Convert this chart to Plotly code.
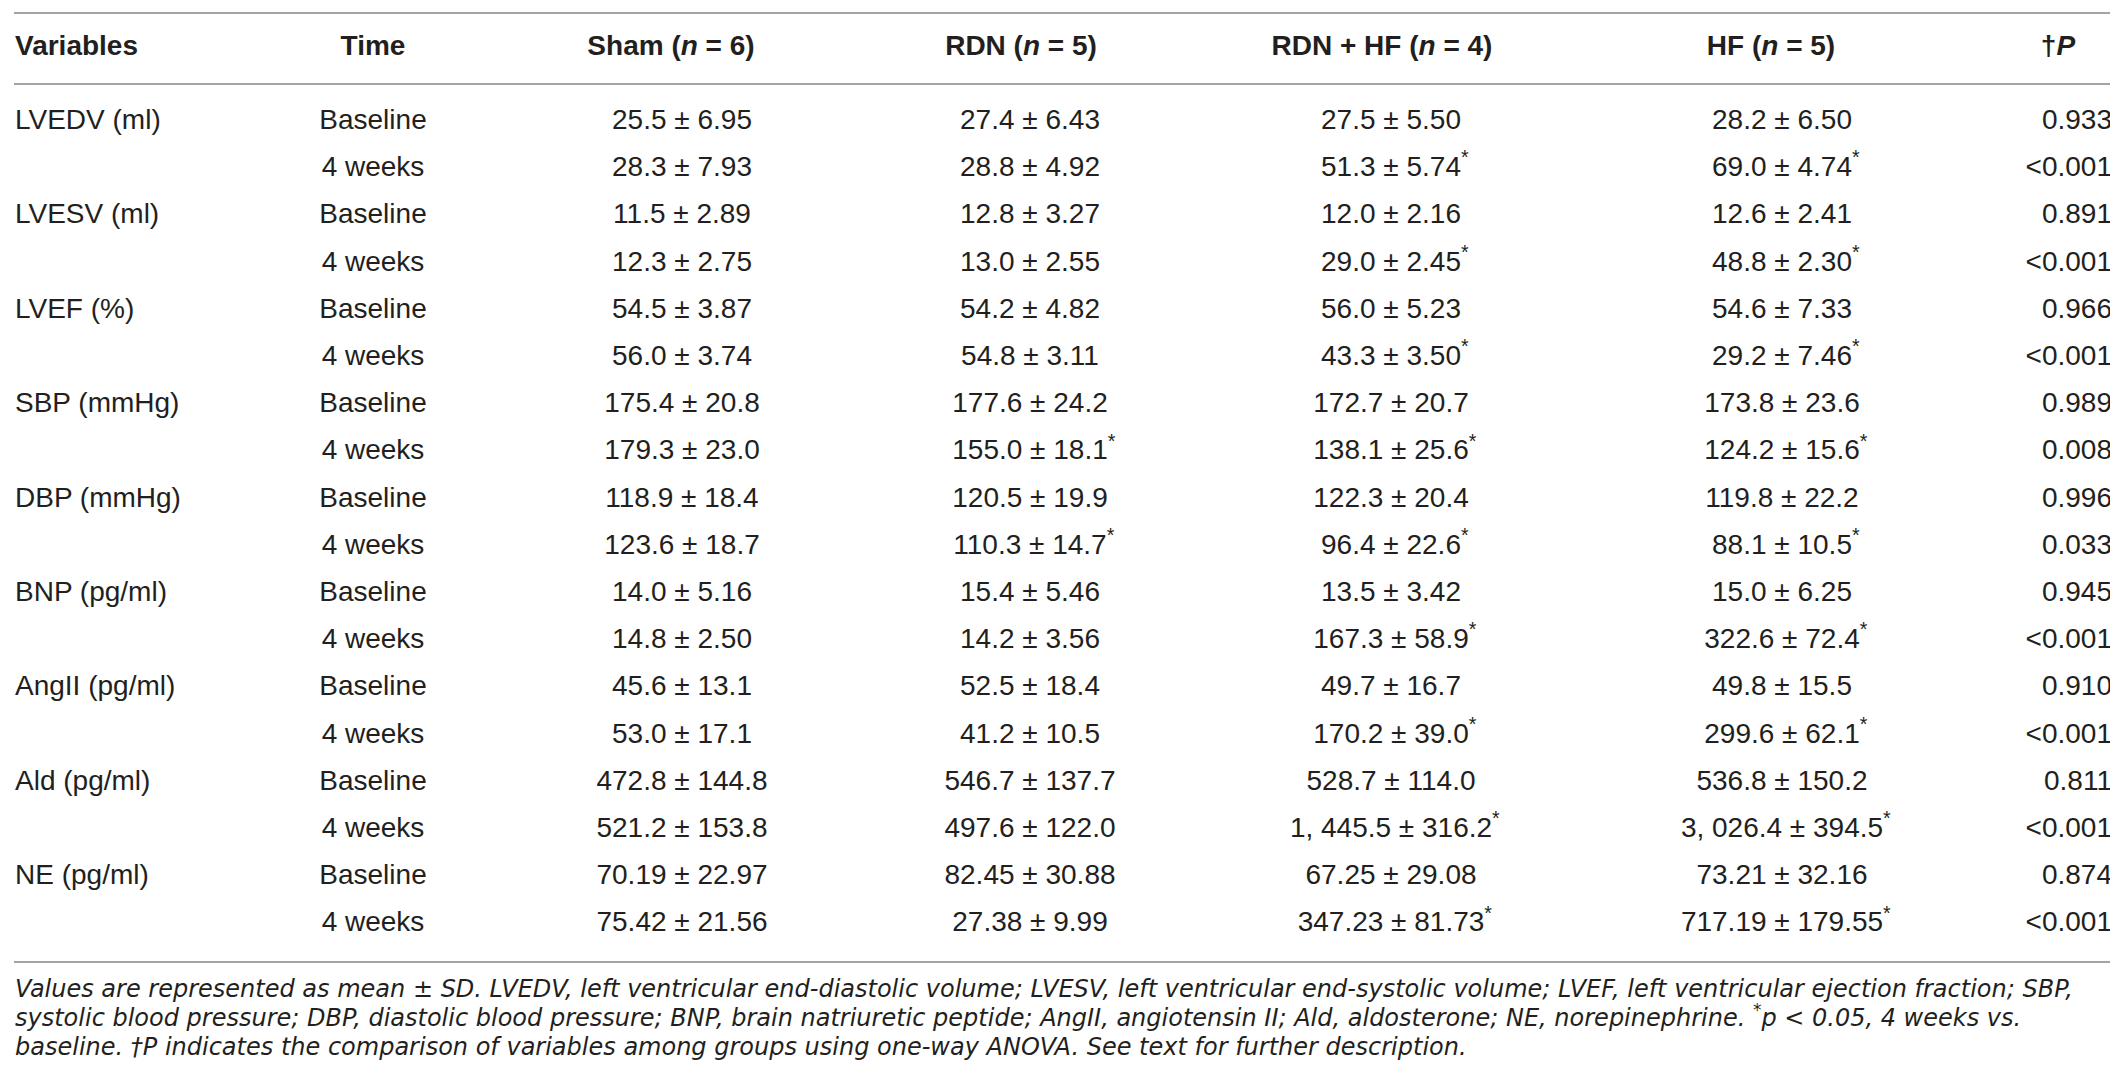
import plotly.graph_objects as go

# table contents
variables = ["LVEDV (ml)", "LVESV (ml)", "LVEF (%)", "SBP (mmHg)", "DBP (mmHg)",
             "BNP (pg/ml)", "AngII (pg/ml)", "Ald (pg/ml)", "NE (pg/ml)"]
times = ["Baseline", "4 weeks"]
headers = ["Variables", "Time", "Sham (<i>n</i> = 6)", "RDN (<i>n</i> = 5)",
           "RDN + HF (<i>n</i> = 4)", "HF (<i>n</i> = 5)", "†<i>P</i>"]

sham = ["25.5 ± 6.95", "28.3 ± 7.93", "11.5 ± 2.89", "12.3 ± 2.75", "54.5 ± 3.87", "56.0 ± 3.74",
        "175.4 ± 20.8", "179.3 ± 23.0", "118.9 ± 18.4", "123.6 ± 18.7", "14.0 ± 5.16", "14.8 ± 2.50",
        "45.6 ± 13.1", "53.0 ± 17.1", "472.8 ± 144.8", "521.2 ± 153.8", "70.19 ± 22.97", "75.42 ± 21.56"]
rdn = ["27.4 ± 6.43", "28.8 ± 4.92", "12.8 ± 3.27", "13.0 ± 2.55", "54.2 ± 4.82", "54.8 ± 3.11",
       "177.6 ± 24.2", "155.0 ± 18.1*", "120.5 ± 19.9", "110.3 ± 14.7*", "15.4 ± 5.46", "14.2 ± 3.56",
       "52.5 ± 18.4", "41.2 ± 10.5", "546.7 ± 137.7", "497.6 ± 122.0", "82.45 ± 30.88", "27.38 ± 9.99"]
rdn_hf = ["27.5 ± 5.50", "51.3 ± 5.74*", "12.0 ± 2.16", "29.0 ± 2.45*", "56.0 ± 5.23", "43.3 ± 3.50*",
          "172.7 ± 20.7", "138.1 ± 25.6*", "122.3 ± 20.4", "96.4 ± 22.6*", "13.5 ± 3.42", "167.3 ± 58.9*",
          "49.7 ± 16.7", "170.2 ± 39.0*", "528.7 ± 114.0", "1, 445.5 ± 316.2*", "67.25 ± 29.08",
          "347.23 ± 81.73*"]
hf = ["28.2 ± 6.50", "69.0 ± 4.74*", "12.6 ± 2.41", "48.8 ± 2.30*", "54.6 ± 7.33", "29.2 ± 7.46*",
      "173.8 ± 23.6", "124.2 ± 15.6*", "119.8 ± 22.2", "88.1 ± 10.5*", "15.0 ± 6.25", "322.6 ± 72.4*",
      "49.8 ± 15.5", "299.6 ± 62.1*", "536.8 ± 150.2", "3, 026.4 ± 394.5*", "73.21 ± 32.16",
      "717.19 ± 179.55*"]
p_values = ["0.933", "<0.001", "0.891", "<0.001", "0.966", "<0.001", "0.989", "0.008", "0.996",
            "0.033", "0.945", "<0.001", "0.910", "<0.001", "0.811", "<0.001", "0.874", "<0.001"]

footnote = [
    "Values are represented as mean ± SD. LVEDV, left ventricular end-diastolic volume; LVESV, left ventricular "
    "end-systolic volume; LVEF, left ventricular ejection fraction; SBP,",
    "systolic blood pressure; DBP, diastolic blood pressure; BNP, brain natriuretic peptide; AngII, angiotensin II; "
    "Ald, aldosterone; NE, norepinephrine. <sup>*</sup><i>p</i> &lt; 0.05, 4 weeks vs.",
    "baseline. †<i>P</i> indicates the comparison of variables among groups using one-way ANOVA. "
    "See text for further description.",
]

W, H = 2118, 1076
FONT = "Liberation Sans, Arial, sans-serif"
FOOT_FONT = "DejaVu Sans, sans-serif"
INK = "#231f20"
RULE = "#a3a3a3"
SIZE = 28

n_rows = len(variables) * 2
row_y = [114 + 47.2 * i for i in range(n_rows)]
header_y = 40
rules_y = [5, 76, 954]
foot_y = [983, 1012, 1041]

# column anchors (pixels)
x_var = 7
x_time = 365
x_groups = [674, 1022, 1383, 1774]
x_group_heads = [663, 1013, 1374, 1763]
x_p = 2104
x_p_head = 2050

GHOST = '<span style="color:rgba(0,0,0,0)"><sup>*</sup></span>'


def cell(s):
    s = s.replace("<", "&lt;")
    if s.endswith("*"):
        # keep the number centred, asterisk hangs to the right
        s = GHOST + s[:-1] + "<sup>*</sup>"
    return s


fig = go.Figure()


def add_text(xs, ys, texts, pos, size=SIZE, weight="normal", style="normal", family=FONT):
    fig.add_trace(go.Scatter(
        x=xs, y=ys, text=texts, mode="text", textposition=pos, hoverinfo="skip",
        textfont=dict(family=family, size=size, color=INK, weight=weight, style=style),
        showlegend=False,
    ))


# header
add_text([x_var], [header_y], [headers[0]], "middle right", weight="bold")
add_text([x_time], [header_y], [headers[1]], "middle center", weight="bold")
add_text(x_group_heads, [header_y] * 4, headers[2:6], "middle center", weight="bold")
add_text([x_p_head], [header_y], [headers[6]], "middle center", weight="bold")

# body: variable name sits on its baseline row
add_text([x_var] * len(variables), row_y[::2], variables, "middle right")
add_text([x_time] * n_rows, row_y, times * len(variables), "middle center")
for xc, col in zip(x_groups, [sham, rdn, rdn_hf, hf]):
    add_text([xc] * n_rows, row_y, [cell(s) for s in col], "middle center")
add_text([x_p] * n_rows, row_y, [cell(s) for s in p_values], "middle left")

# footnote
add_text([x_var] * 3, foot_y, footnote, "middle right", size=24, style="italic", family=FOOT_FONT)

for y in rules_y:
    fig.add_shape(type="line", x0=6, x1=2111, y0=y, y1=y, line=dict(color=RULE, width=2))

fig.update_layout(
    width=W, height=H,
    margin=dict(l=0, r=0, t=0, b=0),
    paper_bgcolor="white", plot_bgcolor="white",
    xaxis=dict(range=[0, W], visible=False, fixedrange=True),
    yaxis=dict(range=[H, 0], visible=False, fixedrange=True),
)

fig.write_html("out.html", config={"displayModeBar": False})
